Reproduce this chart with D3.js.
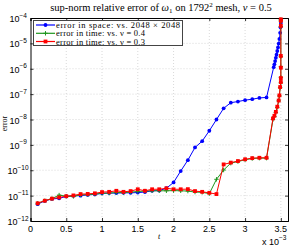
<!DOCTYPE html>
<html>
<head>
<meta charset="utf-8">
<script src="https://cdn.jsdelivr.net/npm/d3@7"></script>
<style>
  html, body { margin: 0; padding: 0; background: #fff; }
  svg { display: block; }
  .tick-label { font-family: "Liberation Sans", Arial, sans-serif; font-size: 9px; fill: #000; }
  .serif { font-family: "Liberation Serif", "DejaVu Serif", serif; fill: #000; }
</style>
</head>
<body>
<div id="chart"></div>
<script>
// time in units of 1e-3
const spaceT = [0.1, 0.2, 0.3, 0.4, 0.5, 0.6, 0.7, 0.8, 0.9, 1.0, 1.1, 1.2, 1.3, 1.4, 1.5, 1.6, 1.7, 1.8, 1.9,
  2.0, 2.1, 2.2, 2.3, 2.4, 2.5, 2.6, 2.7, 2.8, 2.9, 3.0, 3.1, 3.2, 3.3,
  3.4, 3.41, 3.42, 3.43, 3.44, 3.45, 3.46, 3.47, 3.48, 3.49, 3.495, 3.5];
const spaceErr = [4.6e-12, 6.2e-12, 7.4e-12, 7.8e-12, 9.3e-12, 9.8e-12, 1.0e-11, 1.07e-11, 1.12e-11, 1.23e-11,
  1.26e-11, 1.26e-11, 1.29e-11, 1.29e-11, 1.32e-11, 1.38e-11, 1.55e-11, 1.58e-11, 1.95e-11,
  3.3e-11, 9.3e-11, 2.5e-10, 7.9e-10, 1.4e-9, 3.6e-9, 1.0e-8, 2.75e-8, 4.6e-8, 5.1e-8, 5.8e-8, 6.3e-8, 7.1e-8, 7.4e-8,
  1.15e-6, 1.5e-6, 2.0e-6, 2.7e-6, 3.6e-6, 5.0e-6, 6.9e-6, 9.8e-6, 1.5e-5, 2.6e-5, 4.3e-5, 6.3e-5];

const timeT = [0.1, 0.2, 0.3, 0.4, 0.5, 0.6, 0.7, 0.8, 0.9, 1.0, 1.1, 1.2, 1.3, 1.4, 1.5, 1.6, 1.7, 1.8, 1.9,
  2.0, 2.1, 2.2, 2.3, 2.4, 2.5, 2.6, 2.7, 2.8, 2.9, 3.0, 3.1, 3.2, 3.3,
  3.39, 3.41, 3.43, 3.45, 3.47, 3.48, 3.49, 3.5, 3.5, 3.5, 3.5, 3.5, 3.5, 3.5];
const time04Err = [5.0e-12, 6.3e-12, 7.6e-12, 1.05e-11, 9.5e-12, 9.3e-12, 1.07e-11, 1.1e-11, 1.15e-11, 1.23e-11,
  1.26e-11, 1.32e-11, 1.32e-11, 1.38e-11, 1.45e-11, 1.51e-11, 1.55e-11, 1.55e-11, 1.55e-11,
  1.58e-11, 1.55e-11, 1.51e-11, 1.38e-11, 1.35e-11, 1.2e-11, 4.4e-11, 1.02e-10, 1.9e-10, 2.2e-10, 2.6e-10, 2.9e-10, 3.0e-10, 3.0e-10,
  1.0e-8, 1.3e-8, 1.9e-8, 3.0e-8, 5.4e-8, 8.5e-8, 1.8e-7, 2.8e-7, 4.6e-7, 1.2e-6, 3.0e-6, 4.6e-5, 7.6e-5, 8.6e-5];
const time03Err = [5.0e-12, 6.3e-12, 7.6e-12, 8.5e-12, 9.5e-12, 1.02e-11, 1.15e-11, 1.17e-11, 1.23e-11, 1.38e-11,
  1.41e-11, 1.55e-11, 1.41e-11, 1.51e-11, 1.78e-11, 1.55e-11, 1.78e-11, 1.78e-11, 1.95e-11,
  1.78e-11, 1.78e-11, 1.8e-11, 1.51e-11, 1.41e-11, 1.29e-11, 1.15e-11, 1.7e-10, 2.0e-10, 2.3e-10, 2.7e-10, 3.0e-10, 3.1e-10, 3.1e-10,
  1.1e-8, 1.4e-8, 2.0e-8, 3.2e-8, 5.6e-8, 8.9e-8, 1.9e-7, 3.0e-7, 4.3e-7, 1.1e-6, 3.2e-6, 4.9e-5, 7.8e-5, 8.9e-5];

const xTicks = [0, 0.5, 1, 1.5, 2, 2.5, 3, 3.5];
const yExponents = [-12, -11, -10, -9, -8, -7, -6, -5, -4];
const legendLabels = ["error in space:  vs. 2048 \u00d7 2048", "error in time:  vs. \u03bd = 0.4", "error in time:  vs. \u03bd = 0.3"];

const width = 292, height = 246;
const margin = { top: 18, right: 4, bottom: 25, left: 30.5 };

const svg = d3.select("#chart").append("svg").attr("width", width).attr("height", height);

const x = d3.scaleLinear().domain([0, 3.6]).range([margin.left, width - margin.right]);
const y = d3.scaleLog().domain([1e-12, 1e-4]).range([height - margin.bottom, margin.top]);

// grid
const grid = svg.append("g").attr("stroke", "#c8c8c8").attr("stroke-width", 0.7).attr("stroke-dasharray", "1,2");
grid.selectAll("line.gx").data(xTicks.slice(1)).join("line")
  .attr("x1", (d) => x(d)).attr("x2", (d) => x(d))
  .attr("y1", y.range()[1]).attr("y2", y.range()[0]);
grid.selectAll("line.gy").data(yExponents.slice(1, -1)).join("line")
  .attr("y1", (d) => y(10 ** d)).attr("y2", (d) => y(10 ** d))
  .attr("x1", x.range()[0]).attr("x2", x.range()[1]);

// axes with inward ticks on all sides
const axisB = svg.append("g").attr("transform", `translate(0,${y.range()[0]})`)
  .call(d3.axisBottom(x).tickValues(xTicks).tickSize(-3).tickFormat(""));
const axisT = svg.append("g").attr("transform", `translate(0,${y.range()[1]})`)
  .call(d3.axisTop(x).tickValues(xTicks).tickSize(-3).tickFormat(""));
const axisL = svg.append("g").attr("transform", `translate(${x.range()[0]},0)`)
  .call(d3.axisLeft(y).tickValues(yExponents.map((e) => 10 ** e)).tickSize(-3).tickFormat(""));
const axisR = svg.append("g").attr("transform", `translate(${x.range()[1]},0)`)
  .call(d3.axisRight(y).tickValues(yExponents.map((e) => 10 ** e)).tickSize(-3).tickFormat(""));
[axisB, axisT, axisL, axisR].forEach((g) => {
  g.select(".domain").attr("stroke", "#000").attr("stroke-width", 1);
  g.selectAll(".tick line").attr("stroke", "#000").attr("stroke-width", 0.8);
});

// tick labels
svg.append("g").selectAll("text").data(xTicks).join("text")
  .attr("class", "tick-label")
  .attr("x", (d) => x(d)).attr("y", y.range()[0] + 11)
  .attr("text-anchor", "middle")
  .text((d) => d);

const yLab = svg.append("g").selectAll("text").data(yExponents).join("text")
  .attr("class", "tick-label")
  .attr("x", (d) => (d <= -10 ? 28.5 : 27))
  .attr("y", (d) => y(10 ** d) + 4)
  .attr("text-anchor", "end");
yLab.append("tspan").text("10");
yLab.append("tspan").attr("dy", -4.5).attr("font-size", "6.5px").text((d) => "\u2212" + Math.abs(d));

// axis titles
svg.append("text").attr("class", "serif").attr("font-size", "8px").attr("fill", "#444")
  .attr("transform", `translate(7,${(y.range()[0] + y.range()[1]) / 2 + 4}) rotate(-90)`)
  .attr("text-anchor", "middle").text("error");
svg.append("text").attr("class", "serif").attr("font-size", "8px").attr("font-style", "italic")
  .attr("x", 159).attr("y", 239).attr("text-anchor", "middle").text("t");
const mult = svg.append("text").attr("class", "tick-label").attr("x", 262).attr("y", 244.5);
mult.append("tspan").text("x 10");
mult.append("tspan").attr("dy", -4.5).attr("font-size", "6.5px").text("\u22123");

// title
const title = svg.append("text").attr("class", "serif").attr("font-size", "10.5px")
  .attr("x", 161).attr("y", 11).attr("text-anchor", "middle");
title.append("tspan").text("sup-norm relative error of ");
title.append("tspan").attr("font-style", "italic").text("\u03c9");
title.append("tspan").attr("font-size", "7px").attr("dy", 2).text("1");
title.append("tspan").attr("dy", -2).text(" on 1792");
title.append("tspan").attr("font-size", "7px").attr("dy", -4).text("2");
title.append("tspan").attr("dy", 4).text(" mesh, ");
title.append("tspan").attr("font-style", "italic").text("\u03bd");
title.append("tspan").text(" = 0.5");

// series
const series = [
  { t: spaceT, v: spaceErr, color: "#0000ff", marker: "dot" },
  { t: timeT, v: time04Err, color: "#1e961e", marker: "plus" },
  { t: timeT, v: time03Err, color: "#ff0000", marker: "square" },
];

const line = d3.line().x((d) => x(d[0])).y((d) => y(d[1]));
const plot = svg.append("g");

function drawMarkers(g, pts, s, cx, cy) {
  if (s.marker === "dot") {
    g.selectAll("circle").data(pts).join("circle")
      .attr("cx", (d) => cx(d)).attr("cy", (d) => cy(d)).attr("r", 1.9).attr("fill", s.color);
  } else if (s.marker === "square") {
    g.selectAll("rect").data(pts).join("rect")
      .attr("x", (d) => cx(d) - 1.9).attr("y", (d) => cy(d) - 1.9)
      .attr("width", 3.8).attr("height", 3.8).attr("fill", s.color);
  } else {
    g.selectAll("path.mk").data(pts).join("path").attr("class", "mk")
      .attr("d", (d) => `M${cx(d) - 2.2},${cy(d)}h4.4M${cx(d)},${cy(d) - 2.2}v4.4`)
      .attr("stroke", s.color).attr("stroke-width", 1);
  }
}

series.forEach((s) => {
  const pts = s.t.map((t, i) => [t, s.v[i]]);
  const g = plot.append("g");
  g.append("path").datum(pts).attr("d", line)
    .attr("fill", "none").attr("stroke", s.color).attr("stroke-width", 1);
  drawMarkers(g, pts, s, (d) => x(d[0]), (d) => y(d[1]));
});

// legend
const legend = svg.append("g");
legend.append("rect").attr("x", 33.5).attr("y", 20.5).attr("width", 149).attr("height", 25)
  .attr("fill", "#fff").attr("stroke", "#444").attr("stroke-width", 1);
const rowY = [25, 33.3, 41.5];
const rowWidth = [124, 89, 89];
series.forEach((s, i) => {
  const g = legend.append("g");
  g.append("line").attr("x1", 36).attr("x2", 55).attr("y1", rowY[i]).attr("y2", rowY[i])
    .attr("stroke", s.color).attr("stroke-width", 1.2);
  drawMarkers(g, [0], s, () => 45.5, () => rowY[i]);
  legend.append("text").attr("class", "serif").attr("font-size", "8.5px")
    .attr("x", 56).attr("y", rowY[i] + 3)
    .attr("textLength", rowWidth[i]).attr("lengthAdjust", "spacing")
    .text(legendLabels[i]);
});
</script>
</body>
</html>
